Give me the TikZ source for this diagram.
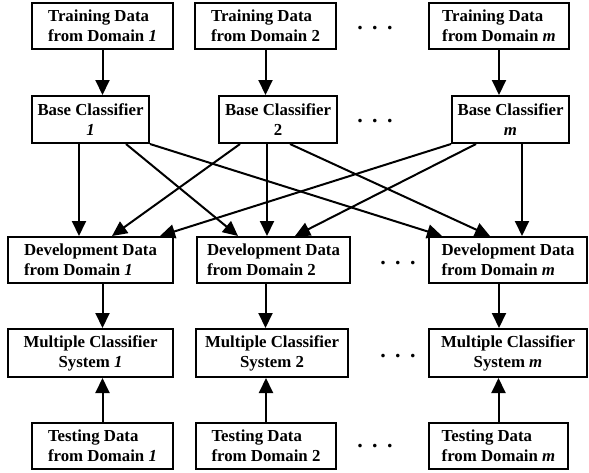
\documentclass[tikz,border=0pt]{standalone}
\usepackage{fontspec}
\setmainfont{Liberation Serif}
\usetikzlibrary{arrows.meta,calc}

\begin{document}
\begin{tikzpicture}[x=1pt, y=-1pt,
	box/.style={draw, line width=2pt, inner sep=0pt, minimum height=46pt, font=\bfseries\fontsize{16.8}{20}\selectfont},
	datbox/.style={box, align=left},
	clsbox/.style={box, align=center},
	pfeil/.style={line width=2pt, -{Triangle[length=15pt, width=14pt]}},
	dots/.style={font=\bfseries\fontsize{22}{24}\selectfont, inner sep=0pt}]

	\useasboundingbox (0,0) rectangle (589,472);

	% training data
	\node[datbox, minimum width=141pt] (t1) at (102.5,26) {Training Data\\from Domain \textit{1}};
	\node[datbox, minimum width=141pt] (t2) at (265.5,26) {Training Data\\from Domain 2};
	\node[datbox, minimum width=140pt] (tm) at (499,26) {Training Data\\from Domain \textit{m}};

	% base classifiers
	\node[clsbox, minimum width=117pt, minimum height=47pt] (b1) at (90.5,119.5) {Base Classifier\\\textit{1}};
	\node[clsbox, minimum width=118pt, minimum height=47pt] (b2) at (278,119.5) {Base Classifier\\2};
	\node[clsbox, minimum width=117pt, minimum height=47pt] (bm) at (510.5,119.5) {Base Classifier\\\textit{m}};

	% development data
	\node[datbox, minimum width=165pt] (d1) at (90.5,260) {Development Data\\from Domain \textit{1}};
	\node[datbox, minimum width=153pt] (d2) at (273.5,260) {Development Data\\from Domain 2};
	\node[datbox, minimum width=158pt] (dm) at (508,260) {Development Data\\from Domain \textit{m}};

	% multiple classifier systems
	\node[clsbox, minimum width=165pt, minimum height=48pt] (m1) at (90.5,353) {Multiple Classifier\\System \textit{1}};
	\node[clsbox, minimum width=152pt, minimum height=48pt] (m2) at (272,353) {Multiple Classifier\\System 2};
	\node[clsbox, minimum width=158pt, minimum height=48pt] (mm) at (508,353) {Multiple Classifier\\System \textit{m}};

	% testing data
	\node[datbox, minimum width=141pt] (s1) at (102.5,446) {Testing Data\\from Domain \textit{1}};
	\node[datbox, minimum width=140pt] (s2) at (266,446) {Testing Data\\from Domain 2};
	\node[datbox, minimum width=139pt] (sm) at (498.5,446) {Testing Data\\from Domain \textit{m}};

	\foreach \xx/\yy [count=\i] in {375/28, 375/121, 398/263, 398/356, 375/446}
		\node[dots] (dots\i) at (\xx,\yy) {.\hspace{9.5pt}.\hspace{9.5pt}.};

	% training -> base
	\draw[pfeil] (t1) -- (t1 |- b1.north);
	\draw[pfeil] (t2) -- (t2 |- b2.north);
	\draw[pfeil] (tm) -- (tm |- bm.north);

	% base -> development
	\coordinate (b1a) at ([xshift=-11.5pt]b1.south);
	\coordinate (b2b) at ([xshift=-11pt]b2.south);
	\coordinate (bmc) at ([xshift=11.5pt]bm.south);
	\draw[pfeil] (b1a) -- (b1a |- d1.north);
	\draw[pfeil] ([xshift=35.5pt]b1.south) -- ([xshift=-35.5pt]d2.north);
	\draw[pfeil] (b1.south east) -- ([xshift=-66pt]dm.north);
	\draw[pfeil] ([xshift=-38pt]b2.south) -- ([xshift=21.5pt]d1.north);
	\draw[pfeil] (b2b) -- (b2b |- d2.north);
	\draw[pfeil] ([xshift=12pt]b2.south) -- ([xshift=-18pt]dm.north);
	\draw[pfeil] (bm.south west) -- ([xshift=69.5pt]d1.north);
	\draw[pfeil] ([xshift=-34.5pt]bm.south) -- ([xshift=21.5pt]d2.north);
	\draw[pfeil] (bmc) -- (bmc |- dm.north);

	% development -> mcs
	\draw[pfeil] (d1.south -| t1) -- (m1.north -| t1);
	\draw[pfeil] (d2.south -| t2) -- (m2.north -| t2);
	\draw[pfeil] (dm.south -| tm) -- (mm.north -| tm);

	% testing -> mcs
	\draw[pfeil] (s1) -- (s1 |- m1.south);
	\draw[pfeil] (s2) -- (s2 |- m2.south);
	\draw[pfeil] (sm) -- (sm |- mm.south);

\end{tikzpicture}
\end{document}
